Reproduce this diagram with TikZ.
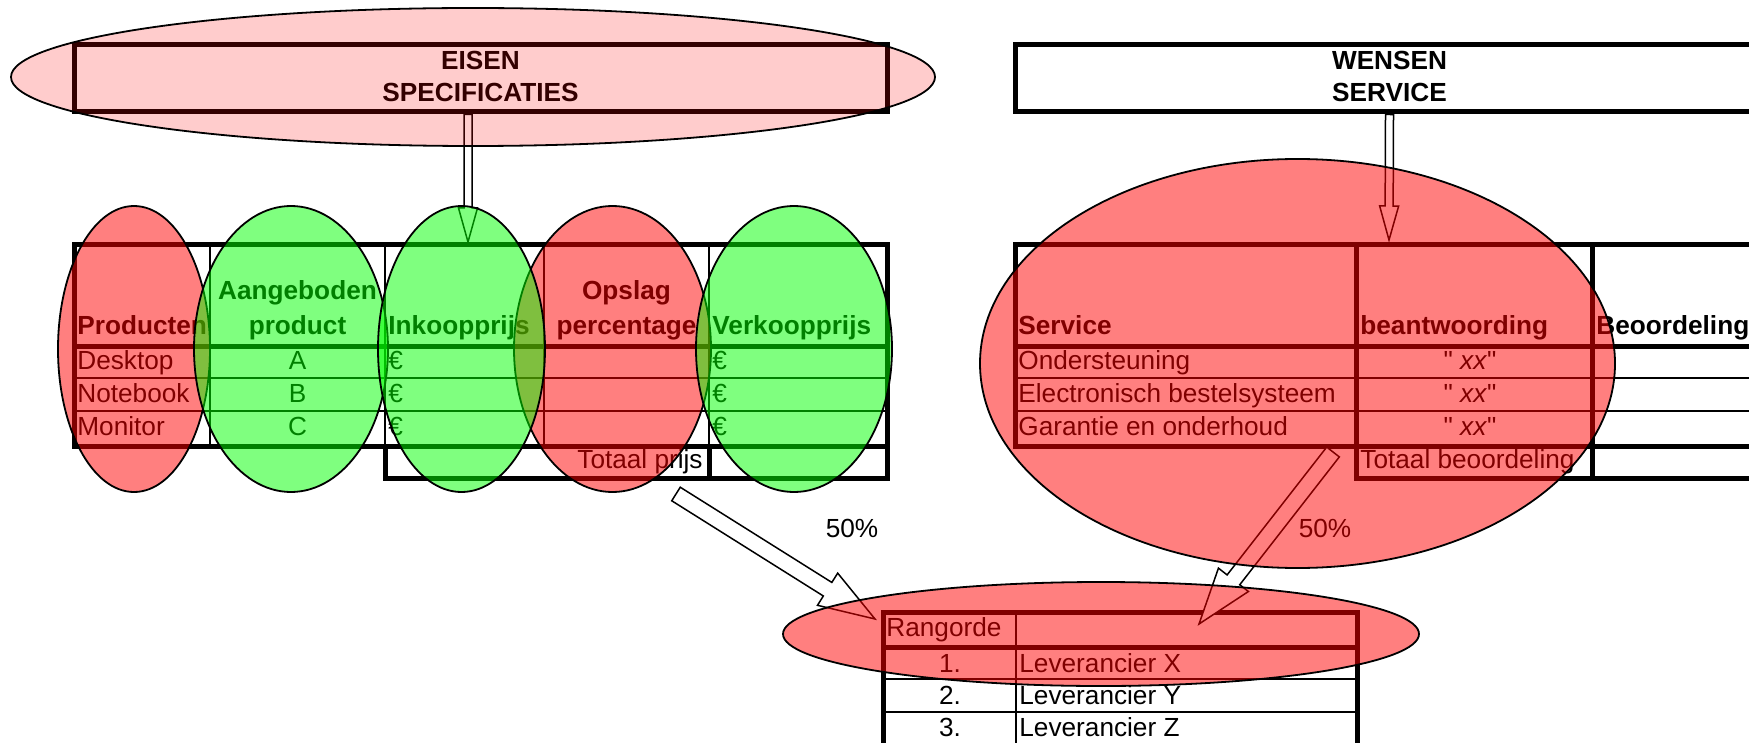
\documentclass[tikz,border=0pt]{standalone}
\usepackage{fontspec}
\setmainfont{Liberation Sans}[Ligatures=TeXOff]
\usetikzlibrary{calc}
\def\eisenblob{(473,77) ellipse [x radius=231pt, y radius=34.5pt]}
\def\prodblob{(134,349) ellipse [x radius=38pt, y radius=71.5pt]}
\def\aanblob{(291,349) ellipse [x radius=48.5pt, y radius=71.5pt]}
\def\inkblob{(461.5,349) ellipse [x radius=41.75pt, y radius=71.5pt]}
\def\opslagblob{(612.5,349) ellipse [x radius=49.25pt, y radius=71.5pt]}
\def\verkblob{(794,349) ellipse [x radius=49pt, y radius=71.5pt]}
\def\serviceblob{(1297.5,363.5) ellipse [x radius=158.75pt, y radius=102.25pt]}
\def\rangblob{(1101,634) ellipse [x radius=159pt, y radius=26pt]}
% tail, tip, half shaft, half head, head length
\def\blockarrow#1#2#3#4#5{%
  \path ($(#2)!#5!(#1)$) coordinate (ba);
  \draw[hollow] ($(#1)!#3!90:(#2)$) -- ($(ba)!#3!-90:(#1)$) -- ($(ba)!#4!-90:(#1)$) -- (#2)
    -- ($(ba)!#4!90:(#1)$) -- ($(ba)!#3!90:(#1)$) -- ($(#1)!#3!-90:(#2)$) -- cycle;}
\colorlet{blob red}{red}
\colorlet{blob green}{green}
\def\cellfont{\fontsize{13.1pt}{16pt}\selectfont}
\tikzset{every node/.style={font=\cellfont},
	thickrule/.style={line width=2.5pt},
	thinrule/.style={line width=1.4pt},
	cell/.style={inner sep=0pt, anchor=base west},
	cellc/.style={inner sep=0pt, anchor=base},
	cellr/.style={inner sep=0pt, anchor=base east},
	head/.style={cell, font=\cellfont\bfseries},
	headc/.style={cellc, font=\cellfont\bfseries},
	titlebox/.style={draw, thickrule, inner sep=0pt, align=center, font=\cellfont\bfseries, minimum height=33.5pt, text depth=2.6pt},
	hollow/.style={draw=black, fill=white, line width=0.75pt},
	redblob/.style={draw=black, line width=0.9pt, fill=blob red, fill opacity=0.5},
	greenblob/.style={draw=black, line width=0.9pt, fill=blob green, fill opacity=0.5},
	pinkblob/.style={draw=black, line width=0.9pt, fill=blob red, fill opacity=0.2}}

\begin{document}
\begin{tikzpicture}[x=0.5pt,y=-0.5pt]
		\useasboundingbox (0,0) rectangle (1749,743);
		\clip (0,0) rectangle (1749,743);
		% left table
		\draw[thickrule] (74,245) rectangle (887,446);
		\draw[thickrule] (74,346) -- (887,346);
		\foreach \y in {378,411} \draw[thinrule] (74,\y) -- (887,\y);
		\foreach \x in {210,385,544,709} \draw[thinrule] (\x,245) -- (\x,446);
		\draw[thickrule] (385,446) rectangle (887,478);
		\draw[thickrule] (709,446) -- (709,478);
		% right table
		\draw[thickrule] (1800,245) -- (1015,245) -- (1015,446) -- (1800,446);
		\draw[thickrule] (1015,346) -- (1800,346);
		\foreach \y in {378,411} \draw[thinrule] (1015,\y) -- (1800,\y);
		\draw[thickrule] (1356,245) -- (1356,478) -- (1800,478);
		\draw[thickrule] (1592,245) -- (1592,478);
		% ranking
		\draw[thickrule] (883,760) -- (883,612) -- (1357,612) -- (1357,760);
		\draw[thickrule] (883,647) -- (1357,647);
		\foreach \y in {679,712} \draw[thinrule] (883,\y) -- (1357,\y);
		\draw[thinrule] (1016,612) -- (1016,760);
		
		\node[titlebox, minimum width=406.5pt] (eisen) at (480.5,78.5) {EISEN\\SPECIFICATIES};
		\node[titlebox, minimum width=374.5pt] (wensen) at (1389.5,78.5) {WENSEN\\SERVICE};
		
		\node[head] (h-prod) at (77,334) {Producten};
		\node[headc] (h-aan1) at (297.5,299.5) {Aangeboden};
		\node[headc] (h-aan2) at (297.5,334) {product};
		\node[head] (h-ink) at (388,334) {Inkoopprijs};
		\node[headc] (h-ops1) at (626.5,299.5) {Opslag};
		\node[headc] (h-ops2) at (626.5,334) {percentage};
		\node[head] (h-verk) at (712,334) {Verkoopprijs};
		\foreach \prod/\letter [count=\i] in {Desktop/A, Notebook/B, Monitor/C} {
			\node[cell] (prod-\i) at (77,336+33*\i) {\prod};
			\node[cellc] (aan-\i) at (297.5,336+33*\i) {\letter};
			\node[cell] (ink-\i) at (388,336+33*\i) {€};
			\node[cell] (verk-\i) at (712,336+33*\i) {€};
		}
		\node[cellr] (totprijs) at (703,468) {Totaal prijs};
		
		\node[head] (h-srv) at (1018,334) {Service};
		\node[head] (h-ant) at (1360,334) {beantwoording};
		\node[head] (h-beo) at (1596,334) {Beoordeling};
		\foreach \srv [count=\i] in {Ondersteuning, Electronisch bestelsysteem, Garantie en onderhoud} {
			\node[cell] (srv-\i) at (1018,336+33*\i) {\srv};
			\node[cellc] (xx-\i) at (1470,336+33*\i) {" \textit{xx}"};
		}
		\node[cell] (totbeo) at (1360,468) {Totaal beoordeling};
		
		\node[cell] (h-rang) at (886,636) {Rangorde};
		\foreach \lev [count=\i] in {X,Y,Z} {
			\node[cellc] (rank-\i) at (950,640+32*\i) {\i.};
			\node[cell] (lev-\i) at (1019,640+32*\i) {Leverancier \lev};
		}
		\node (pct-left) at (852,528) {50\%};
		\node (pct-right) at (1325,528) {50\%};
		
		% arrows
		\coordinate (eisen tip) at (468,242);
		\coordinate (eisen tail) at (eisen tip |- eisen.south);
		\coordinate (wensen tip) at (1389,240);
		\blockarrow{eisen tail}{eisen tip}{2pt}{4.75pt}{17pt}
		\blockarrow{wensen.south}{wensen tip}{2pt}{4.75pt}{17pt}
		\coordinate (prijs tail) at (676,494);
		\coordinate (rang tip left) at (875,619);
		\coordinate (beo tail) at (1333,452);
		\coordinate (rang tip right) at (1199,624);
		\blockarrow{prijs tail}{rang tip left}{4pt}{9.5pt}{28pt}
		\blockarrow{beo tail}{rang tip right}{4pt}{9.5pt}{28pt}
		
		\draw[pinkblob] \eisenblob;
		\draw[redblob] \prodblob;
		\draw[redblob] \opslagblob;
		\draw[redblob] \serviceblob;
		\draw[redblob] \rangblob;
		\draw[greenblob] \aanblob;
		\draw[greenblob] \inkblob;
		\draw[greenblob] \verkblob;
		\end{tikzpicture}
\end{document}
